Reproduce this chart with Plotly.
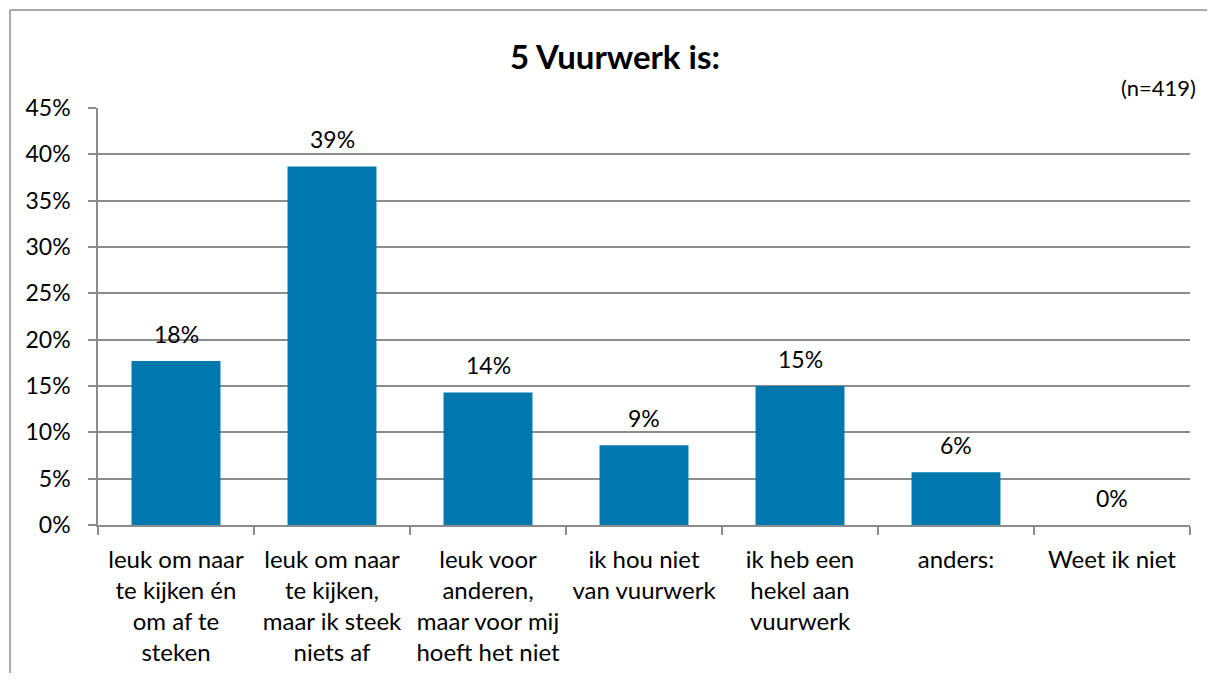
import plotly.graph_objects as go

categories = [
    "leuk om naar<br>te kijken én<br>om af te<br>steken",
    "leuk om naar<br>te kijken,<br>maar ik steek<br>niets af",
    "leuk voor<br>anderen,<br>maar voor mij<br>hoeft het niet",
    "ik hou niet<br>van vuurwerk",
    "ik heb een<br>hekel aan<br>vuurwerk",
    "anders:",
    "Weet ik niet",
]
values = [17.7, 38.7, 14.3, 8.6, 15.0, 5.7, 0.0]
labels = ["18%", "39%", "14%", "9%", "15%", "6%", "0%"]
y_ticks = [0, 5, 10, 15, 20, 25, 30, 35, 40, 45]
y_ticktext = [f"{v}%" for v in y_ticks]

# page body has an 8px margin, so the figure is offset by 8px;
# keep the figure inside the 1215x681 window to avoid scrollbars
W, H = 1199, 665
L, T = 90, 100
R = W - 1182
B = H - 517
pw, ph = W - L - R, H - T - B

FONT = "Lato, Noto Sans, sans-serif"
GRID = "#8c8c8c"

fig = go.Figure(go.Bar(
    x=categories, y=values,
    marker_color="#0077ad", marker_line_width=0,
    hoverinfo="skip",
))

annotations = [
    dict(x=c, y=v, text=t, xref="x", yref="y", showarrow=False,
         yanchor="middle", xanchor="center", yshift=27,
         font=dict(size=23, family=FONT, color="#000000"))
    for c, v, t in zip(categories, values, labels)
]
annotations.append(dict(text="(n=419)", xref="paper", yref="paper",
                        x=(1190 - L) / pw, y=(517 - 79) / ph,
                        xanchor="right", yanchor="middle", showarrow=False,
                        font=dict(size=22, family=FONT, color="#000000")))

fx0 = (2 - L) / pw
fx1 = (W - L) / pw
fy_top = (517 - 2) / ph
fy_bot = (517 - H) / ph
frame = dict(color="#8c8c8c", width=1.5)

fig.update_layout(
    width=W, height=H,
    margin=dict(l=L, r=R, t=T, b=B, autoexpand=False),
    paper_bgcolor="white", plot_bgcolor="white",
    bargap=0.43,
    showlegend=False,
    font=dict(family=FONT, size=21, color="#000000"),
    title=dict(text="<b>5 Vuurwerk is:</b>", x=607 / W, xref="container",
               y=1 - 49 / H, yref="container", xanchor="center", yanchor="middle",
               font=dict(size=33, family=FONT, color="#000000")),
    annotations=annotations,
    shapes=[
        dict(type="line", xref="paper", yref="paper",
             x0=fx0, x1=fx1, y0=fy_top, y1=fy_top, line=frame, layer="below"),
        dict(type="line", xref="paper", yref="paper",
             x0=fx0, x1=fx0, y0=fy_top, y1=fy_bot, line=frame, layer="below"),
    ],
)

fig.update_yaxes(
    range=[0, 45], tickvals=y_ticks, ticktext=y_ticktext,
    showgrid=True, gridcolor=GRID, gridwidth=1.5,
    showline=True, linecolor=GRID, linewidth=1.5,
    ticks="outside", ticklen=8, tickcolor=GRID, tickwidth=1.5,
    tickfont=dict(size=23, family=FONT, color="#000000"),
    zeroline=False, ticklabelstandoff=13,
)
fig.update_xaxes(
    showline=True, linecolor=GRID, linewidth=1.5,
    ticks="outside", tickson="boundaries", ticklen=8, tickcolor=GRID, tickwidth=1.5,
    tickfont=dict(size=24, family=FONT, color="#000000"),
    tickangle=0, ticklabelstandoff=12,
)

fig.write_html("out.html")
